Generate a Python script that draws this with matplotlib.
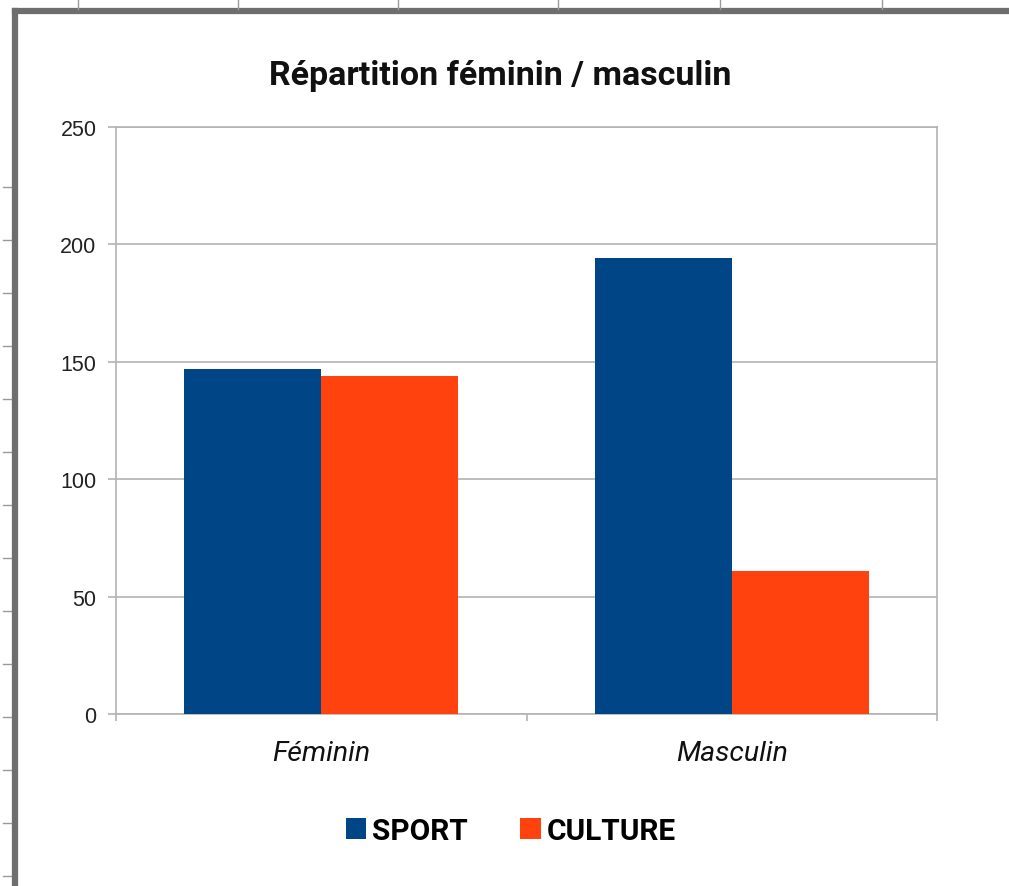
import matplotlib
matplotlib.use("Agg")
import matplotlib.pyplot as plt
from matplotlib.patches import Patch
from matplotlib.lines import Line2D
import numpy as np

# ---- data ----
categories = ["Féminin", "Masculin"]
series_names = ["SPORT", "CULTURE"]
sport = [147, 194]
culture = [144, 61]
yticks = [0, 50, 100, 150, 200, 250]
title = "Répartition féminin / masculin"

colors = ["#004586", "#ff420e"]
grid_col = "#b3b3b3"

W, H = 1009, 887
fig = plt.figure(figsize=(W / 100, H / 100), dpi=100)
fig.patch.set_facecolor("white")

ax = fig.add_axes([116 / W, 1 - 715 / H, (937 - 116) / W, (715 - 128) / H])

x = np.arange(len(categories))
bw = 1 / 3
ax.bar(x - bw / 2, sport, width=bw, color=colors[0], zorder=3, linewidth=0)
ax.bar(x + bw / 2, culture, width=bw, color=colors[1], zorder=3, linewidth=0)

ax.set_xlim(-0.5, len(categories) - 0.5)
ax.set_ylim(0, 250)
ax.set_yticks(yticks)
ax.set_yticklabels([str(v) for v in yticks], fontsize=15.5, family="Liberation Sans", color="#222222")
ax.yaxis.grid(True, color=grid_col, linewidth=1.2, zorder=0)
ax.tick_params(axis="y", direction="out", length=6, width=1.2, color=grid_col, pad=8)

ax.set_xticks(x)
ax.set_xticklabels(categories, fontsize=20.5, family="Roboto", style="italic", color="#111111")
ax.tick_params(axis="x", which="major", length=0, pad=19)
ax.set_xticks(np.arange(-0.5, len(categories), 1.0), minor=True)
ax.tick_params(axis="x", which="minor", direction="out", length=5, width=1.2, color=grid_col)

for s in ax.spines.values():
    s.set_color(grid_col)
    s.set_linewidth(1.2)

fig.text(500 / W, 1 - 85 / H, title, ha="center", va="baseline",
         fontsize=24.5, fontweight="bold", family="Roboto", color="#111111")

handles = [Patch(facecolor=c, edgecolor="none") for c in colors]
leg = fig.legend(handles, series_names, loc="center", bbox_to_anchor=(511 / W, 1 - 832 / H),
                 ncol=2, frameon=False, handlelength=0.68, handleheight=0.7,
                 handletextpad=0.2, columnspacing=1.75,
                 prop={"family": "Roboto", "weight": "bold", "size": 21.5})

# window border & ruler marks (decoration)
border_col = "#6e6e6e"
fig.add_artist(Line2D([15 / W, 15 / W], [0, 1 - 12 / H], transform=fig.transFigure,
                      color=border_col, linewidth=4.5, solid_capstyle="projecting"))
fig.add_artist(Line2D([15 / W, 1], [1 - 12 / H, 1 - 12 / H], transform=fig.transFigure,
                      color=border_col, linewidth=4.5, solid_capstyle="projecting"))
for px in [78, 238, 398, 558, 720, 882]:
    fig.add_artist(Line2D([px / W, px / W], [1 - 10 / H, 1], transform=fig.transFigure,
                          color="#9a9a9a", linewidth=1))
for py in range(877, 150, -53):
    fig.add_artist(Line2D([3 / W, 11 / W], [1 - py / H, 1 - py / H], transform=fig.transFigure,
                          color="#9a9a9a", linewidth=1))

fig.savefig("out.png", dpi=100)
